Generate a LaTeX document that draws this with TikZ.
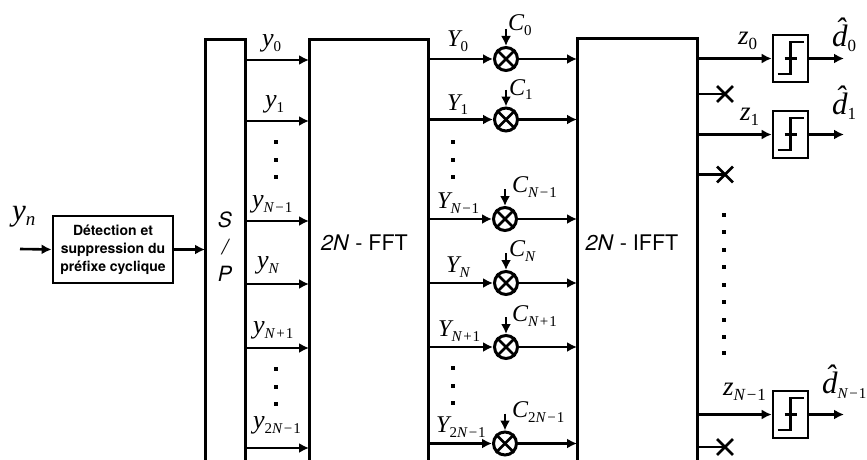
\documentclass[tikz,border=0pt]{standalone}
\usepackage{fontspec}
\setmainfont{TeX Gyre Heros}
\newfontfamily\timesfont{Liberation Serif}
\usetikzlibrary{shapes.misc, arrows.meta}
\tikzstyle{block}=[draw, line width=3pt, inner sep=0, outer sep=0, anchor=north west]
\tikzstyle{mult}=[draw, circle, line width=3pt, inner sep=0, minimum size=23pt]
\tikzstyle{slicer}=[draw, line width=2.6pt, inner sep=0, minimum width=35pt, minimum height=47pt]
\tikzstyle{cutoff}=[draw, cross out, line width=2.8pt, inner sep=0, minimum size=13pt]
\tikzstyle{dotmark}=[fill, inner sep=0, minimum size=4.5pt]
\tikzstyle{sig}=[-{Latex[length=10pt,width=10pt]}, line width=2.6pt]
\tikzstyle{stub}=[line width=2.6pt]
\tikzstyle{lab}=[inner sep=0, anchor=base west]
\tikzstyle{title}=[inner sep=0, font=\fontsize{21.5}{21.5}\selectfont]
\newcommand{\sig}[3][24]{%
  {\timesfont\fontsize{#1}{#1}\selectfont\itshape #2}%
  \raisebox{-5pt}{\timesfont\fontsize{15}{15}\selectfont #3}%
}
\newcommand{\ssub}[1]{\textit{#1}}
\newcommand{\mr}{\kern1pt−\kern1pt}
\newcommand{\pl}{\kern1pt+\kern1pt}
\newcommand{\dhatsym}{\rlap{\kern3pt\raisebox{7pt}{ˆ}}d}
\newcommand{\drawmult}[3]{
  \node[mult] (mult#1) at (#2,#3) {};
  \draw[line width=2.8pt] (mult#1.north west) -- (mult#1.south east);
  \draw[line width=2.8pt] (mult#1.north east) -- (mult#1.south west);
  \coordinate (ctl#1) at ([yshift=17pt]mult#1.north);
  \draw[sig] (ctl#1) -- (mult#1.north);
  \draw[sig] (fft.east |- mult#1.west) -- (mult#1.west);
  \draw[sig] (mult#1.east) -- (ifft.west |- mult#1.east);
}
\newcommand{\drawslicer}[2]{
  \node[slicer] (dec#1) at (790.5,#2) {};
  \draw[line width=2.6pt] ([shift={(-13pt,-15.5pt)}]dec#1.center) -- ++(13pt,0) -- ++(0,32pt) -- ++(13pt,0);
  \draw[line width=2.6pt] ([xshift=-6pt]dec#1.center) -- ([xshift=6pt]dec#1.center);
  \coordinate (out#1) at (844,#2);
  \draw[sig] (ifft.east |- dec#1.west) -- (dec#1.west);
  \draw[sig] (dec#1.east) -- (out#1);
}
\newcommand{\drawcut}[2]{
  \node[cutoff] (cut#1) at (725,#2) {};
  \draw[stub] (ifft.east |- cut#1.center) -- (cut#1.center);
}
\newcommand{\drawrow}[2]{
  \coordinate (row#1) at (0,#2);
  \draw[sig] (sp.east |- row#1) -- (fft.west |- row#1);
}

\begin{document}
\begin{tikzpicture}[x=1pt, y=-1pt]
  \useasboundingbox (0,0) rectangle (867,460);
  \clip (0,0) rectangle (867,460);
  \node[block, minimum width=40pt, minimum height=450pt] (sp) at (205,40) {};
  \node[block, minimum width=119pt, minimum height=450pt] (fft) at (309,40) {};
  \node[block, minimum width=120pt, minimum height=450pt] (ifft) at (577,39) {};
  \node[draw, line width=2.8pt, inner sep=0, minimum width=120pt, minimum height=67pt, align=center,
    font=\fontsize{14}{18}\selectfont\bfseries] (detect) at (113,249.5)
    {Détection et\\suppression du\\préfixe cyclique};
  \coordinate (input) at (20,249);
  \draw[sig] (input) -- (detect.west);
  \draw[sig] (detect.east) -- (sp.west |- detect.east);
  \node[title, align=center, font=\fontsize{21}{27}\selectfont\itshape] (splabel) at (225,247) {S\\/\\P};
  \node[title] (fftlabel) at (364.5,243) {\textit{2N} - FFT};
  \node[title] (ifftlabel) at (632,242.5) {\textit{2N} - IFFT};

  \drawrow{a}{60}
  \drawrow{b}{121}
  \drawrow{c}{221}
  \drawrow{d}{284}
  \drawrow{e}{348}
  \drawrow{f}{448}
  \drawmult{a}{506}{59}
  \drawmult{b}{506}{119.5}
  \drawmult{c}{505}{219}
  \drawmult{d}{506}{283}
  \drawmult{e}{506}{347}
  \drawmult{f}{505}{443.5}
  \drawslicer{a}{58.5}
  \drawslicer{b}{134.5}
  \drawslicer{c}{414.5}
  \drawcut{a}{94}
  \drawcut{b}{174.5}
  \drawcut{c}{447}

  \foreach \y in {142,160,177,369,387,404} \node[dotmark] (ydot\y) at (276,\y) {};
  \foreach \y in {142,160,177,368,386,403} \node[dotmark] (Ydot\y) at (453,\y) {};
  \foreach \y in {215,232,250,267,285,302,320,337,353} \node[dotmark] (zdot\y) at (724,\y) {};

  \node[lab] (ly) at (12,220) {\sig[31]{y}{\fontsize{19}{19}\selectfont\ssub{n}}};
  \node[lab] (ly0) at (262,47) {\sig[26]{y}{0}};
  \node[lab] (ly1) at (265,107) {\sig[26]{y}{1}};
  \node[lab] (lyc) at (252,207) {\sig[26]{y}{\ssub{N}\mr 1}};
  \node[lab] (lyd) at (257,268) {\sig[26]{y}{\ssub{N}}};
  \node[lab] (lye) at (253,333) {\sig[26]{y}{\ssub{N}\pl 1}};
  \node[lab] (lyf) at (253,428) {\sig[26]{y}{2\ssub{N}\mr 1}};
  \node[lab] (lY0) at (447,47) {\sig{Y}{0}};
  \node[lab] (lY1) at (447,110) {\sig{Y}{1}};
  \node[lab] (lYc) at (437,208) {\sig{Y}{\ssub{N}\mr 1}};
  \node[lab] (lYd) at (446,272) {\sig{Y}{\ssub{N}}};
  \node[lab] (lYe) at (438,336) {\sig{Y}{\ssub{N}\pl 1}};
  \node[lab] (lYf) at (436,432) {\sig{Y}{2\ssub{N}\mr 1}};
  \node[lab] (lC0) at (508,31) {\sig{C}{0}};
  \node[lab] (lC1) at (509,95) {\sig{C}{1}};
  \node[lab] (lCc) at (512,192) {\sig{C}{\ssub{N}\mr 1}};
  \node[lab] (lCd) at (509,256) {\sig{C}{\ssub{N}}};
  \node[lab] (lCe) at (512,321) {\sig{C}{\ssub{N}\pl 1}};
  \node[lab] (lCf) at (512,417) {\sig{C}{2\ssub{N}\mr 1}};
  \node[lab] (lz0) at (738,45) {\sig[27]{z}{\fontsize{17}{17}\selectfont 0}};
  \node[lab] (lz1) at (740,120) {\sig[27]{z}{\fontsize{17}{17}\selectfont 1}};
  \node[lab] (lzc) at (723,395) {\sig[27]{z}{\fontsize{17}{17}\selectfont \ssub{N}\mr 1}};
  \node[lab] (ld0) at (832,47) {\sig[31]{\dhatsym}{\fontsize{17}{17}\selectfont 0}};
  \node[lab] (ld1) at (832,114) {\sig[31]{\dhatsym}{\fontsize{17}{17}\selectfont 1}};
  \node[lab] (ldc) at (822,393) {\sig[31]{\dhatsym}{\ssub{N}\mr 1}};
\end{tikzpicture}
\end{document}
